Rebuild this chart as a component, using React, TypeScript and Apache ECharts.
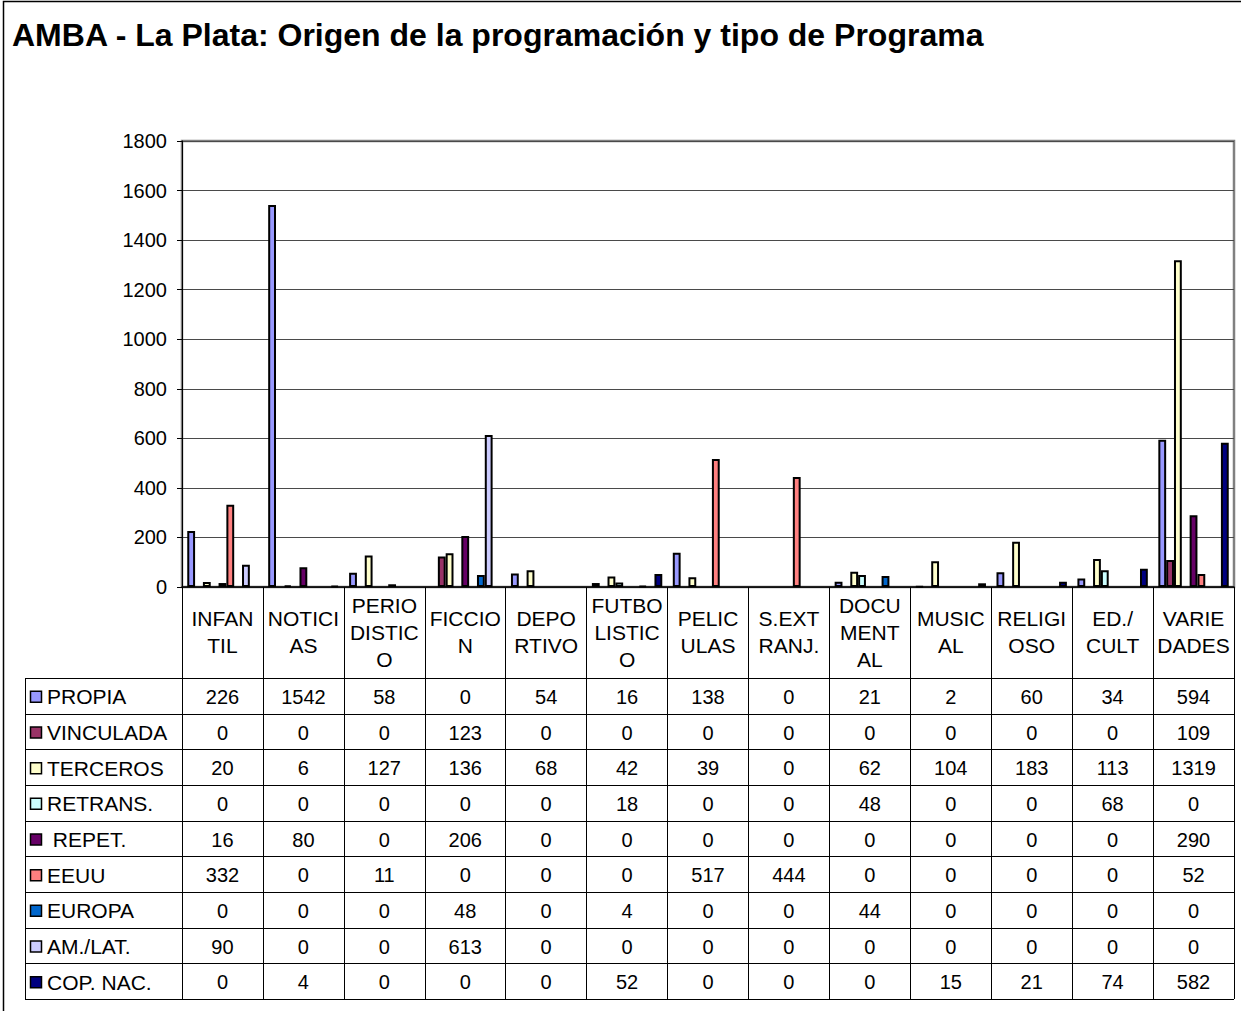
import React, { useEffect, useRef } from "react";
import * as echarts from "echarts";

const categories = [
  "INFAN\nTIL", "NOTICI\nAS", "PERIO\nDISTIC\nO", "FICCIO\nN", "DEPO\nRTIVO",
  "FUTBO\nLISTIC\nO", "PELIC\nULAS", "S.EXT\nRANJ.", "DOCU\nMENT\nAL", "MUSIC\nAL",
  "RELIGI\nOSO", "ED./\nCULT", "VARIE\nDADES",
];

const seriesNames = ["PROPIA", "VINCULADA", "TERCEROS", "RETRANS.", " REPET.", "EEUU", "EUROPA", "AM./LAT.", "COP. NAC."];
const seriesColors = ["#9999FF", "#993366", "#FFFFCC", "#CCFFFF", "#660066", "#FF8080", "#0066CC", "#CCCCFF", "#000080"];

const propia = [226, 1542, 58, 0, 54, 16, 138, 0, 21, 2, 60, 34, 594];
const vinculada = [0, 0, 0, 123, 0, 0, 0, 0, 0, 0, 0, 0, 109];
const terceros = [20, 6, 127, 136, 68, 42, 39, 0, 62, 104, 183, 113, 1319];
const retrans = [0, 0, 0, 0, 0, 18, 0, 0, 48, 0, 0, 68, 0];
const repet = [16, 80, 0, 206, 0, 0, 0, 0, 0, 0, 0, 0, 290];
const eeuu = [332, 0, 11, 0, 0, 0, 517, 444, 0, 0, 0, 0, 52];
const europa = [0, 0, 0, 48, 0, 4, 0, 0, 44, 0, 0, 0, 0];
const amlat = [90, 0, 0, 613, 0, 0, 0, 0, 0, 0, 0, 0, 0];
const copnac = [0, 4, 0, 0, 0, 52, 0, 0, 0, 15, 21, 74, 582];

const allSeries = [propia, vinculada, terceros, retrans, repet, eeuu, europa, amlat, copnac];

const yTicks = { min: 0, max: 1800, interval: 200 };

const FONT = "'Liberation Sans', Arial, sans-serif";

export default function App() {
  const ref = useRef<HTMLDivElement>(null);
  useEffect(() => {
    if (!ref.current) return;
    const chart = echarts.init(ref.current, null, { renderer: "svg" });

    const gridLeft = 182;
    const gridTop = 141;
    const gridW = 1052;
    const gridH = 446;
    const axisY = gridTop + gridH;
    const tableLeft = 25;
    const tableRight = gridLeft + gridW;
    const firstRowY = 678;
    const tableBottom = 999;
    const rowH = (tableBottom - firstRowY) / seriesNames.length;
    const catW = gridW / categories.length;

    const graphic: any[] = [];
    graphic.push({
      type: "rect",
      shape: { x: 3.5, y: 1.5, width: 1300, height: 1100 },
      style: { fill: "none", stroke: "#000", lineWidth: 1.5 },
      silent: true,
    });
    for (let k = 0; k <= seriesNames.length; k++) {
      const y = Math.round(firstRowY + k * rowH) + 0.5;
      graphic.push({
        type: "line",
        shape: { x1: tableLeft, y1: y, x2: tableRight, y2: y },
        style: { stroke: "#000", lineWidth: 1 },
        silent: true,
      });
    }
    graphic.push({
      type: "line",
      shape: { x1: tableLeft + 0.5, y1: firstRowY, x2: tableLeft + 0.5, y2: tableBottom },
      style: { stroke: "#000", lineWidth: 1 },
      silent: true,
    });
    seriesNames.forEach((name, s) => {
      const cy = firstRowY + (s + 0.5) * rowH + 1;
      graphic.push({
        type: "rect",
        shape: { x: 30.5, y: cy - 5.5, width: 11, height: 11 },
        style: { fill: seriesColors[s], stroke: "#000", lineWidth: 1.5 },
        silent: true,
      });
      graphic.push({
        type: "text",
        x: 47,
        y: cy,
        style: { text: name, font: `21px ${FONT}`, fill: "#000", verticalAlign: "middle", align: "left" },
        silent: true,
      });
      allSeries[s].forEach((v, i) => {
        graphic.push({
          type: "text",
          x: gridLeft + (i + 0.5) * catW,
          y: cy,
          style: { text: String(v), font: `20px ${FONT}`, fill: "#000", verticalAlign: "middle", align: "center" },
          silent: true,
        });
      });
    });

    chart.setOption({
      animation: false,
      backgroundColor: "#fff",
      title: {
        text: "AMBA - La Plata: Origen de la programación y tipo de Programa",
        left: 7,
        top: 14,
        textStyle: { fontFamily: FONT, fontSize: 32, fontWeight: "bold", color: "#000" },
      },
      grid: {
        left: gridLeft,
        top: gridTop,
        width: gridW,
        height: gridH,
        show: true,
        borderColor: "#808080",
        borderWidth: 2.5,
        backgroundColor: "transparent",
      },
      xAxis: {
        type: "category",
        data: categories,
        axisLine: { show: true, lineStyle: { color: "#000", width: 1.5 } },
        axisTick: { show: true, interval: 0, alignWithLabel: false, length: tableBottom - axisY, lineStyle: { color: "#000", width: 1 } },
        axisLabel: {
          interval: 0,
          margin: 45,
          verticalAlign: "middle",
          lineHeight: 27,
          fontSize: 21,
          fontFamily: FONT,
          color: "#000",
        },
        splitLine: { show: false },
      },
      yAxis: {
        type: "value",
        min: yTicks.min,
        max: yTicks.max,
        interval: yTicks.interval,
        axisLine: { show: true, lineStyle: { color: "#000", width: 1 } },
        axisTick: { show: true, length: 5, lineStyle: { color: "#000" } },
        axisLabel: { fontSize: 20, fontFamily: FONT, color: "#000", margin: 15, formatter: (v: number) => String(v) },
        splitLine: { show: true, lineStyle: { color: "#4a4a4a", width: 1 } },
      },
      series: seriesNames.map((name, s) => ({
        name,
        type: "bar",
        data: allSeries[s].map((v) => (v === 0 ? "-" : v)),
        barGap: "0%",
        barCategoryGap: "13%",
        itemStyle: { color: seriesColors[s], borderColor: "#000", borderWidth: 2 },
      })),
      graphic,
    });
    return () => chart.dispose();
  }, []);
  return <div ref={ref} style={{ position: "absolute", left: 0, top: 0, width: 1241, height: 1011 }} />;
}
